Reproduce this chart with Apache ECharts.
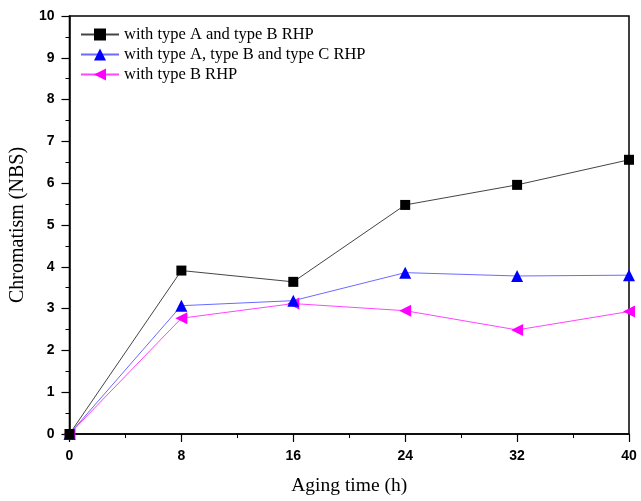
<!DOCTYPE html>
<html><head><meta charset="utf-8">
<script src="https://cdn.jsdelivr.net/npm/echarts@6/dist/echarts.min.js"></script>
<style>html,body{margin:0;padding:0;background:#fff}#c{width:641px;height:501px}</style>
</head><body><div id="c"></div>
<script>
const hours = [0, 8, 16, 24, 32, 40];
const seriesNames = ["with type A and type B RHP", "with type A, type B and type C RHP", "with type B RHP"];
const typeAB = [0, 3.91, 3.64, 5.48, 5.96, 6.56];
const typeABC = [0, 3.07, 3.19, 3.86, 3.78, 3.80];
const typeB = [0, 2.77, 3.12, 2.95, 2.49, 2.93];

const pair = arr => hours.map((h, i) => [h, arr[i]]);
const chart = echarts.init(document.getElementById('c'));
const axisCommon = {
  axisLine: {show: true, onZero: false, lineStyle: {color: '#000', width: 1.5}},
  axisTick: {show: true, inside: false, length: 8, lineStyle: {color: '#000', width: 1.2}},
  minorTick: {show: true, splitNumber: 2, length: 4, lineStyle: {color: '#000', width: 1}},
  splitLine: {show: false},
  axisLabel: {color: '#000', fontFamily: 'Liberation Sans', fontWeight: 'bold', fontSize: 14}
};
chart.setOption({
  backgroundColor: '#fff',
  animation: false,
  grid: {left: 68, right: 12, top: 16, bottom: 65, show: true, borderColor: '#000', borderWidth: 1.5},
  legend: {
    left: 75, top: 21, orient: 'vertical', itemGap: 3, itemWidth: 38, itemHeight: 15,
    textStyle: {fontFamily: 'Liberation Serif', fontSize: 16.5, color: '#000'},
    data: seriesNames
  },
  xAxis: Object.assign({}, axisCommon, {
    type: 'value', min: 0, max: 40, interval: 8,
    name: 'Aging time (h)', nameLocation: 'middle', nameGap: 42,
    nameTextStyle: {fontFamily: 'Liberation Serif', fontSize: 19.5, color: '#000'},
    axisLabel: Object.assign({}, axisCommon.axisLabel, {margin: 15})
  }),
  yAxis: Object.assign({}, axisCommon, {
    type: 'value', min: 0, max: 10, interval: 1,
    name: 'Chromatism (NBS)', nameLocation: 'middle', nameGap: 37,
    nameTextStyle: {fontFamily: 'Liberation Serif', fontSize: 20, color: '#000'},
    axisLabel: Object.assign({}, axisCommon.axisLabel, {margin: 15})
  }),
  series: [
    {name: seriesNames[0], type: 'line', data: pair(typeAB), symbol: 'rect', symbolSize: 10,
     lineStyle: {color: '#444', width: 1}, itemStyle: {color: '#000'}, z: 3},
    {name: seriesNames[1], type: 'line', data: pair(typeABC), symbol: 'triangle', symbolSize: 12,
     lineStyle: {color: '#6a6aff', width: 1}, itemStyle: {color: '#0000ff'}, z: 2},
    {name: seriesNames[2], type: 'line', data: pair(typeB), symbol: 'path://M0,5 L10,0 L10,10 Z', symbolSize: 12,
     lineStyle: {color: '#ff44ff', width: 1}, itemStyle: {color: '#ff00ff'}, z: 1}
  ]
});
</script></body></html>
